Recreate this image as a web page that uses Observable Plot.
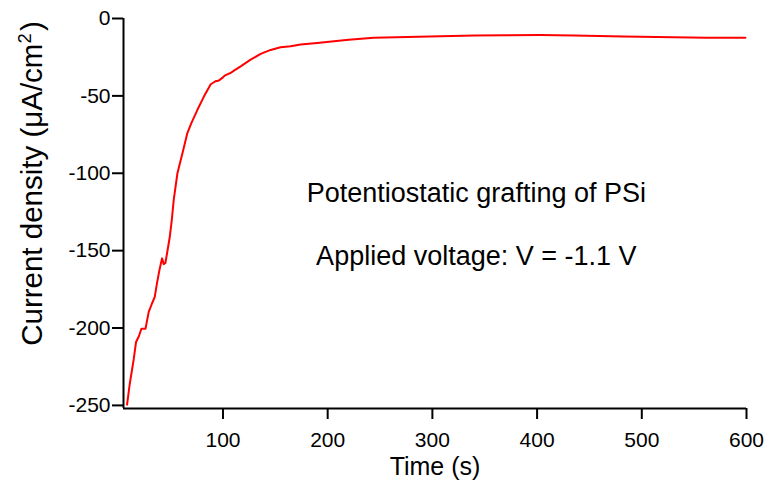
<!DOCTYPE html>
<html>
<head>
<meta charset="utf-8">
<script src="https://cdn.jsdelivr.net/npm/d3@7"></script>
<script src="https://cdn.jsdelivr.net/npm/@observablehq/plot@0.6"></script>
<style>
  html, body { margin: 0; padding: 0; background: #fff; }
  #chart svg { display: block; }
</style>
</head>
<body>
<div id="chart"></div>
<script>
// Time (s)
const timeS = [8.4, 11, 14.8, 17, 19.6, 22.1, 26, 29.1, 32.3, 34.8, 37, 39.3, 41.8, 43.4, 45, 46.6, 49, 51, 53, 56.5, 61.3, 66, 69.8, 75.6, 81.9, 88.3, 91.4, 93, 96.2, 99.4, 101.6, 105.7, 107.3, 110.5, 116.9, 126.4, 136, 145.5, 155, 164.6, 174.1, 190, 206, 220, 244, 276, 308, 340, 371, 403, 435, 483, 530, 562, 599];
// Current density (µA/cm²)
const currentDensity = [-249.5, -236, -220, -209, -205.5, -200.5, -200.5, -189.6, -184, -180, -171, -162.6, -155, -158.7, -158, -151.7, -142, -131, -117, -100, -87, -74, -67.6, -59, -50.3, -42.5, -41.2, -40.5, -40, -38.4, -36.9, -35.6, -35.2, -33.7, -30.9, -26.6, -22.9, -20.3, -18.6, -17.9, -16.8, -15.8, -14.7, -13.8, -12.5, -11.9, -11.4, -11, -10.8, -10.7, -11, -11.6, -12.1, -12.4, -12.5];

const xTicks = [100, 200, 300, 400, 500, 600];
const yTicks = [0, -50, -100, -150, -200, -250];
const xDomain = [5, 600];
const yDomain = [-252, 0];
const xLabel = "Time (s)";
const yLabelParts = ["Current density (μA/cm", "2", ")"];
const annotations = ["Potentiostatic grafting of PSi", "Applied voltage: V = -1.1 V"];

const data = timeS.map((t, i) => ({t, j: currentDensity[i]}));

const font = "'Liberation Sans', Arial, Helvetica, sans-serif";
const yLabelText = yLabelParts.join("");

const chart = Plot.plot({
  width: 769,
  height: 486,
  marginLeft: 123,
  marginRight: 23,
  marginTop: 18,
  marginBottom: 78,
  style: {fontFamily: font, fontSize: "20px", color: "#000", background: "#fff", overflow: "visible"},
  x: {domain: xDomain},
  y: {domain: yDomain},
  marks: [
    Plot.axisY({ticks: yTicks, tickSize: 11, strokeWidth: 2, tickFormat: () => "", label: null}),
    Plot.axisX({ticks: xTicks, tickSize: 11, strokeWidth: 2, tickFormat: () => "", label: null}),
    Plot.text(yTicks, {y: d => d, text: d => String(d), frameAnchor: "left", textAnchor: "end", dx: -13, fontSize: 21}),
    Plot.text(xTicks, {x: d => d, text: d => String(d), frameAnchor: "bottom", lineAnchor: "top", dy: 24, fontSize: 21}),
    Plot.ruleX([xDomain[0]], {stroke: "#000", strokeWidth: 2}),
    Plot.ruleY([yDomain[0]], {stroke: "#000", strokeWidth: 2}),
    Plot.line(data, {x: "t", y: "j", stroke: "#ff0000", strokeWidth: 2}),
    Plot.text([xLabel], {frameAnchor: "bottom", dy: 66, text: d => d, fontSize: 25, lineAnchor: "bottom"}),
    Plot.text([yLabelText], {frameAnchor: "left", textAnchor: "middle", dx: -91, dy: -30, rotate: -90, text: d => d, fontSize: 29.5}),
    Plot.text([annotations[0]], {x: 342, y: -112.8, text: d => d, fontSize: 27}),
    Plot.text([annotations[1]], {x: 342, y: -153.5, text: d => d, fontSize: 27})
  ]
});

// superscript the "2" of cm² in the y label
d3.select(chart).selectAll("text")
  .filter(function() { return this.textContent === yLabelText; })
  .each(function() {
    const t = d3.select(this);
    t.text(null);
    t.append("tspan").text(yLabelParts[0]);
    t.append("tspan").attr("dy", "-0.6em").attr("font-size", "0.62em").text(yLabelParts[1]);
    t.append("tspan").attr("dy", "0.37em").attr("dx", "0.08em").text(yLabelParts[2]);
  });
document.getElementById("chart").appendChild(chart);
</script>
</body>
</html>
